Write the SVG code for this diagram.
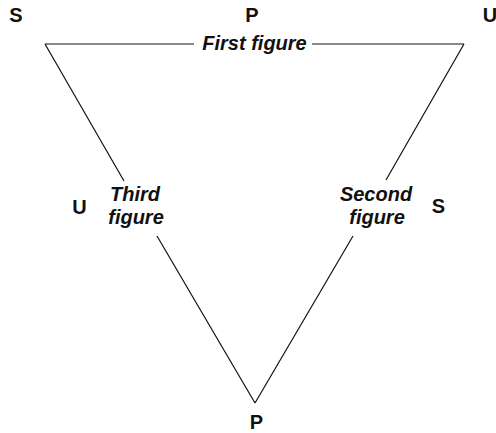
<svg xmlns="http://www.w3.org/2000/svg" width="496" height="433" viewBox="0 0 496 433">
<style>
.ln{stroke:#111;stroke-width:1.2;fill:none}
.v{font-family:"Liberation Sans",Arial,sans-serif;font-size:20px;font-weight:bold;fill:#111;text-anchor:middle}
.f{font-family:"Liberation Sans",Arial,sans-serif;font-size:20px;font-weight:bold;font-style:italic;fill:#111;text-anchor:middle}
</style>
<rect width="496" height="433" fill="#fff"/>
<g id="connectors">
<path class="ln" d="M45 44H194M312 44H464"/>
<path class="ln" d="M45 44L124 181M157 236L255 403"/>
<path class="ln" d="M464 44L386 180M353 236L255 403"/>
</g>
<g id="first-figure"><text class="f" x="254.5" y="50">First figure</text></g>
<g id="third-figure"><text class="f" x="135" y="201">Third</text><text class="f" x="136" y="224">figure</text></g>
<g id="second-figure"><text class="f" x="376" y="201">Second</text><text class="f" x="377" y="224">figure</text></g>
<g id="top-left-S"><text class="v" x="16" y="22">S</text></g>
<g id="top-P"><text class="v" x="252" y="22">P</text></g>
<g id="top-right-U"><text class="v" x="490" y="22">U</text></g>
<g id="left-U"><text class="v" x="79.5" y="214">U</text></g>
<g id="right-S"><text class="v" x="438.5" y="213">S</text></g>
<g id="bottom-P"><text class="v" x="256.5" y="429">P</text></g>
</svg>
